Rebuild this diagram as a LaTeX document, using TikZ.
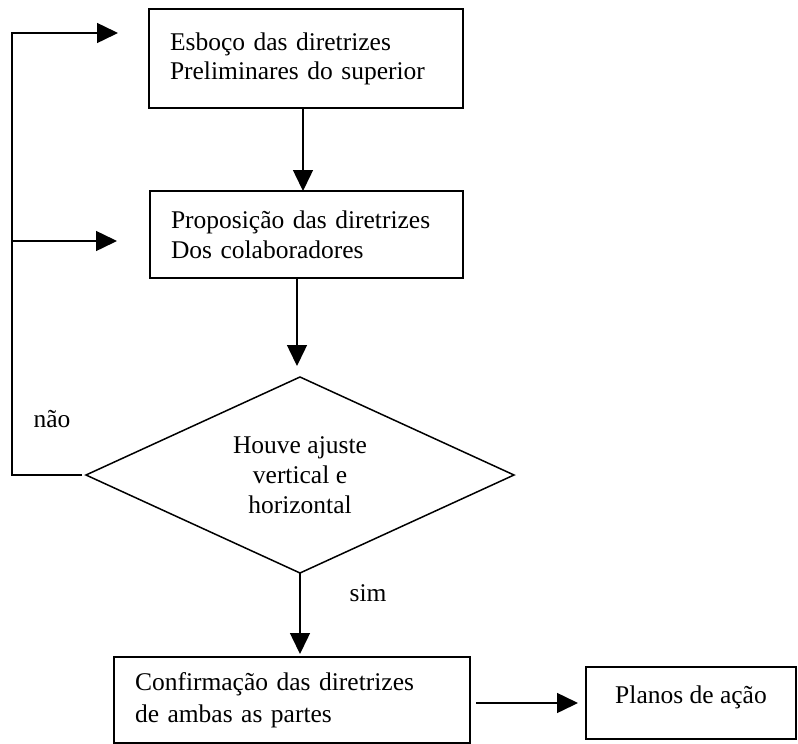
\documentclass[tikz,border=0pt]{standalone}
\usepackage{fontspec}
\setmainfont{Liberation Serif}
\usetikzlibrary{arrows.meta,shapes.geometric}
\begin{document}
\begin{tikzpicture}[x=1pt,y=-1pt,
  every node/.style={font=\fontsize{25.5}{29}\selectfont},
  box/.style={draw, line width=1.5pt, rectangle, inner ysep=0pt, outer sep=0pt},
  arr/.style={line width=1.5pt, -{Triangle[length=21pt,width=20pt]}},
  conn/.style={line width=1.5pt}]
\useasboundingbox (0,0) rectangle (798,744);

% process boxes
\node[box, minimum width=314pt, minimum height=99pt, text width=272pt,
      inner xsep=21pt, align=left] (b1) at (306,58.5)
  {Esboço das diretrizes\\Preliminares do superior};
\node[box, minimum width=313pt, minimum height=87pt, text width=271pt,
      inner xsep=21pt, align=left, font=\fontsize{25.5}{30}\selectfont] (b2) at (306.5,234.5)
  {Proposição das diretrizes\\Dos colaboradores};

% decision
\node[diamond, draw, line width=1.5pt, aspect=2.18, minimum width=428pt,
      minimum height=196pt, inner sep=0pt, outer sep=0pt, align=center,
      font=\fontsize{25.5}{30}\selectfont] (d) at (300,475)
  {Houve ajuste\\vertical e\\horizontal};

\node[box, minimum width=356pt, minimum height=86pt, text width=314pt,
      inner xsep=21pt, align=left, font=\fontsize{25.5}{32}\selectfont] (b3) at (292,700)
  {Confirmação das diretrizes\\de ambas as partes};
\node[box, minimum width=210pt, minimum height=72pt, text depth=17pt,
      align=center] (b4) at (691,703) {Planos de ação};

% branch labels
\node (nao) at (52,419) {não};
\node (sim) at (368,593) {sim};

% main flow
\draw[arr] ([xshift=-3pt]b1.south) -- ([xshift=-3pt]b1.south |- b2.north);
\draw[arr, shorten >=11pt] ([xshift=-9.5pt]b2.south) -- ([xshift=-9.5pt]b2.south |- d.north);
\draw[arr, shorten >=3pt] (d.south) -- (d.south |- b3.north);
\draw[arr, shorten <=6pt, shorten >=8pt] (b3.east |- b4.west) -- (b4.west);

% "não" feedback loop
\coordinate (c1) at (12,33);
\coordinate (c2) at (12,241);
\draw[arr, shorten <=4pt, shorten >=31pt] (d.west) -| (c1) -- (c1 -| b1.west);
\draw[arr, shorten >=33pt] (c2) -- (c2 -| b2.west);
\end{tikzpicture}
\end{document}
